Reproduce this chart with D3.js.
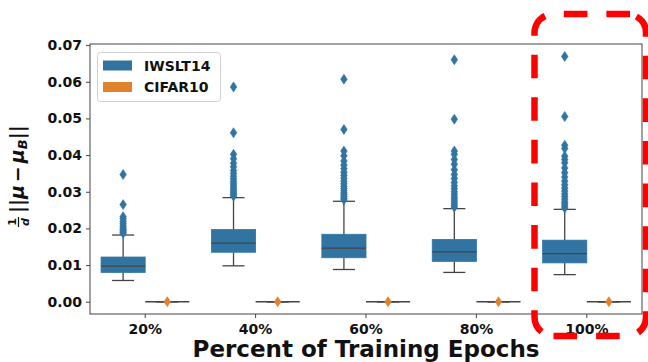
<!DOCTYPE html>
<html>
<head>
<meta charset="utf-8">
<script src="https://cdn.jsdelivr.net/npm/d3@7"></script>
<style>
  html, body { margin: 0; padding: 0; background: #fff; }
  svg { display: block; font-family: "DejaVu Sans", sans-serif; }
</style>
</head>
<body>
<svg id="chart" width="648" height="362"></svg>
<script>
// Distance of per-class means from the batch mean over training progress
const categories = ["20%", "40%", "60%", "80%", "100%"];
const series = ["IWSLT14", "CIFAR10"];
const colors = ["#3274a1", "#e1812c"];
const yTicks = [0.00, 0.01, 0.02, 0.03, 0.04, 0.05, 0.06, 0.07];

// IWSLT14 box statistics per epoch checkpoint
const iwsltWhiskerLow  = [0.0058, 0.0098, 0.0088, 0.0080, 0.0074];
const iwsltQ1          = [0.0080, 0.0135, 0.0120, 0.0110, 0.0106];
const iwsltMedian      = [0.0097, 0.0160, 0.0146, 0.0136, 0.0131];
const iwsltQ3          = [0.0122, 0.0197, 0.0184, 0.0170, 0.0168];
const iwsltWhiskerHigh = [0.0182, 0.0284, 0.0274, 0.0254, 0.0252];
const iwsltOutliers = [
  [0.0347, 0.0265, 0.0232, 0.0226, 0.0219, 0.0213, 0.0207, 0.0202, 0.0198, 0.0194, 0.0190, 0.0187],
  [0.0586, 0.0461, 0.0402, 0.0390, 0.0378, 0.0368, 0.0358, 0.0350, 0.0342, 0.0335, 0.0328, 0.0322,
   0.0316, 0.0310, 0.0305, 0.0300, 0.0296, 0.0292, 0.0288],
  [0.0607, 0.0470, 0.0411, 0.0398, 0.0384, 0.0373, 0.0363, 0.0353, 0.0345, 0.0337, 0.0329, 0.0322,
   0.0315, 0.0309, 0.0303, 0.0297, 0.0292, 0.0287, 0.0282, 0.0278],
  [0.0660, 0.0498, 0.0411, 0.0402, 0.0388, 0.0375, 0.0360, 0.0347, 0.0336, 0.0325, 0.0316, 0.0308,
   0.0300, 0.0293, 0.0286, 0.0280, 0.0274, 0.0268, 0.0263, 0.0258],
  [0.0669, 0.0505, 0.0427, 0.0418, 0.0397, 0.0388, 0.0379, 0.0365, 0.0352, 0.0340, 0.0329, 0.0319,
   0.0310, 0.0302, 0.0294, 0.0287, 0.0280, 0.0273, 0.0267, 0.0261, 0.0256]
];

// CIFAR10 values collapse to zero at every checkpoint
const cifarWhiskerLow  = [0, 0, 0, 0, 0];
const cifarQ1          = [0, 0, 0, 0, 0];
const cifarMedian      = [0, 0, 0, 0, 0];
const cifarQ3          = [0, 0, 0, 0, 0];
const cifarWhiskerHigh = [0, 0, 0, 0, 0];
const cifarOutliers    = [[0.00002], [0.00002], [0.00002], [0.00002], [0.00002]];

const svg = d3.select("#chart");
const plotLeft = 90, plotRight = 642, plotTop = 44, plotBottom = 314;
const lineGray = "#444";

const x = d3.scaleBand().domain(categories).range([plotLeft, plotRight]);
const bw = x.bandwidth();
const hue = d3.scaleBand().domain(series).range([0.1 * bw, 0.9 * bw]);
const y = d3.scaleLinear().domain([-0.00334, 0.0703]).range([plotBottom, plotTop]);

// Build per-box records
const boxes = [];
categories.forEach((c, i) => {
  boxes.push({ cat: c, s: series[0], color: colors[0],
    lo: iwsltWhiskerLow[i], q1: iwsltQ1[i], med: iwsltMedian[i], q3: iwsltQ3[i], hi: iwsltWhiskerHigh[i],
    out: iwsltOutliers[i] });
  boxes.push({ cat: c, s: series[1], color: colors[1],
    lo: cifarWhiskerLow[i], q1: cifarQ1[i], med: cifarMedian[i], q3: cifarQ3[i], hi: cifarWhiskerHigh[i],
    out: cifarOutliers[i] });
});

const plot = svg.append("g");
const hw = hue.bandwidth();

boxes.forEach(b => {
  const x0 = x(b.cat) + hue(b.s);
  const cx = x0 + hw / 2;
  const g = plot.append("g");
  // whiskers
  g.append("line").attr("x1", cx).attr("x2", cx).attr("y1", y(b.q3)).attr("y2", y(b.hi))
    .attr("stroke", lineGray).attr("stroke-width", 1.3);
  g.append("line").attr("x1", cx).attr("x2", cx).attr("y1", y(b.q1)).attr("y2", y(b.lo))
    .attr("stroke", lineGray).attr("stroke-width", 1.3);
  // caps
  [b.lo, b.hi].forEach(v => {
    g.append("line").attr("x1", cx - hw / 4).attr("x2", cx + hw / 4).attr("y1", y(v)).attr("y2", y(v))
      .attr("stroke", lineGray).attr("stroke-width", 1.3);
  });
  // box
  g.append("rect").attr("x", x0).attr("width", hw)
    .attr("y", y(b.q3)).attr("height", Math.max(0, y(b.q1) - y(b.q3)))
    .attr("fill", b.color).attr("stroke", b.color).attr("stroke-width", 0.8);
  // median / collapsed box
  g.append("line").attr("x1", x0).attr("x2", x0 + hw).attr("y1", y(b.med)).attr("y2", y(b.med))
    .attr("stroke", lineGray).attr("stroke-width", 1.3);
  // outliers as thin diamonds
  const dw = 3.3, dh = 5;
  g.selectAll("path.flier").data(b.out).join("path")
    .attr("class", "flier")
    .attr("d", v => `M${cx},${y(v) - dh}L${cx + dw},${y(v)}L${cx},${y(v) + dh}L${cx - dw},${y(v)}Z`)
    .attr("fill", b.color).attr("stroke", b.color).attr("stroke-width", 0.6);
});

// axes
const yAxis = svg.append("g").attr("transform", `translate(${plotLeft},0)`)
  .call(d3.axisLeft(y).tickValues(yTicks).tickFormat(d3.format(".2f")).tickSize(4).tickPadding(4));
const xAxis = svg.append("g").attr("transform", `translate(0,${plotBottom})`)
  .call(d3.axisBottom(x).tickSize(4).tickPadding(5));
[yAxis, xAxis].forEach(a => {
  a.select(".domain").remove();
  a.selectAll(".tick line").attr("stroke", "#444").attr("stroke-width", 1);
  a.selectAll(".tick text").attr("fill", "#111").attr("font-size", 14)
    .attr("font-weight", "bold").attr("font-family", "DejaVu Sans");
});
xAxis.selectAll(".tick text").attr("dy", "0.76em");

// frame
svg.append("rect").attr("x", plotLeft).attr("y", plotTop)
  .attr("width", plotRight - plotLeft).attr("height", plotBottom - plotTop)
  .attr("fill", "none").attr("stroke", "#444").attr("stroke-width", 1);

// x label
svg.append("text").attr("x", (plotLeft + plotRight) / 2).attr("y", 357).attr("text-anchor", "middle")
  .attr("font-size", 23).attr("font-weight", "bold").attr("fill", "#111")
  .text("Percent of Training Epochs");

// y label: (1/d) ||μ − μ_B||
const yl = svg.append("g").attr("transform", "translate(24,177) rotate(-90)")
  .attr("fill", "#111").attr("font-weight", "bold");
yl.append("text").attr("x", -45).attr("y", -8).attr("text-anchor", "middle").attr("font-size", 11).text("1");
yl.append("line").attr("x1", -50).attr("x2", -40).attr("y1", -5.5).attr("y2", -5.5)
  .attr("stroke", "#111").attr("stroke-width", 1.2);
yl.append("text").attr("x", -45).attr("y", 4.5).attr("text-anchor", "middle").attr("font-size", 11)
  .attr("font-style", "italic").text("d");
const main = yl.append("text").attr("x", -36).attr("y", 0).attr("font-size", 19);
main.append("tspan").text("||");
main.append("tspan").attr("font-style", "italic").text("μ");
main.append("tspan").attr("dx", 3).text("−");
main.append("tspan").attr("dx", 3).attr("font-style", "italic").text("μ");
main.append("tspan").attr("font-style", "italic").attr("font-size", 13).attr("dy", 3).text("B");
main.append("tspan").attr("dy", -3).text("||");

// legend
const lg = svg.append("g");
lg.append("rect").attr("x", 97.5).attr("y", 52.5).attr("width", 123).attr("height", 49).attr("rx", 3)
  .attr("fill", "#fff").attr("fill-opacity", 0.8).attr("stroke", "#d0d0d0");
series.forEach((s, i) => {
  const yy = 60.5 + i * 21.5;
  lg.append("rect").attr("x", 103).attr("y", yy).attr("width", 29).attr("height", 10)
    .attr("fill", colors[i]);
  lg.append("text").attr("x", 144).attr("y", yy + 10).attr("font-size", 14).attr("font-weight", "bold")
    .attr("fill", "#111").text(s);
});

// dashed rounded highlight around the final checkpoint, drawn as two strokes
const hl = { x0: 534.5, x1: 646, y0: 14, y1: 336, r: 19 };
const pa = d3.path();   // top edge leftwards, left side, down to bottom-left corner
pa.moveTo(630, hl.y0);
pa.lineTo(hl.x0 + hl.r, hl.y0);
pa.arcTo(hl.x0, hl.y0, hl.x0, hl.y0 + hl.r, hl.r);
pa.lineTo(hl.x0, hl.y1 - hl.r);
pa.arcTo(hl.x0, hl.y1, hl.x0 + hl.r, hl.y1, hl.r);
const pb = d3.path();   // bottom edge rightwards, right side, up to the top edge
pb.moveTo(hl.x0 + hl.r, hl.y1);
pb.lineTo(hl.x1 - hl.r, hl.y1);
pb.arcTo(hl.x1, hl.y1, hl.x1, hl.y1 - hl.r, hl.r);
pb.lineTo(hl.x1, hl.y0 + hl.r);
pb.arcTo(hl.x1, hl.y0, hl.x1 - hl.r, hl.y0, hl.r);
pb.lineTo(630, hl.y0);
[pa, pb].forEach(p => {
  svg.append("path").attr("d", p.toString())
    .attr("fill", "none").attr("stroke", "#ff0000").attr("stroke-width", 6.5)
    .attr("stroke-dasharray", "23.6,19");
});
</script>
</body>
</html>
